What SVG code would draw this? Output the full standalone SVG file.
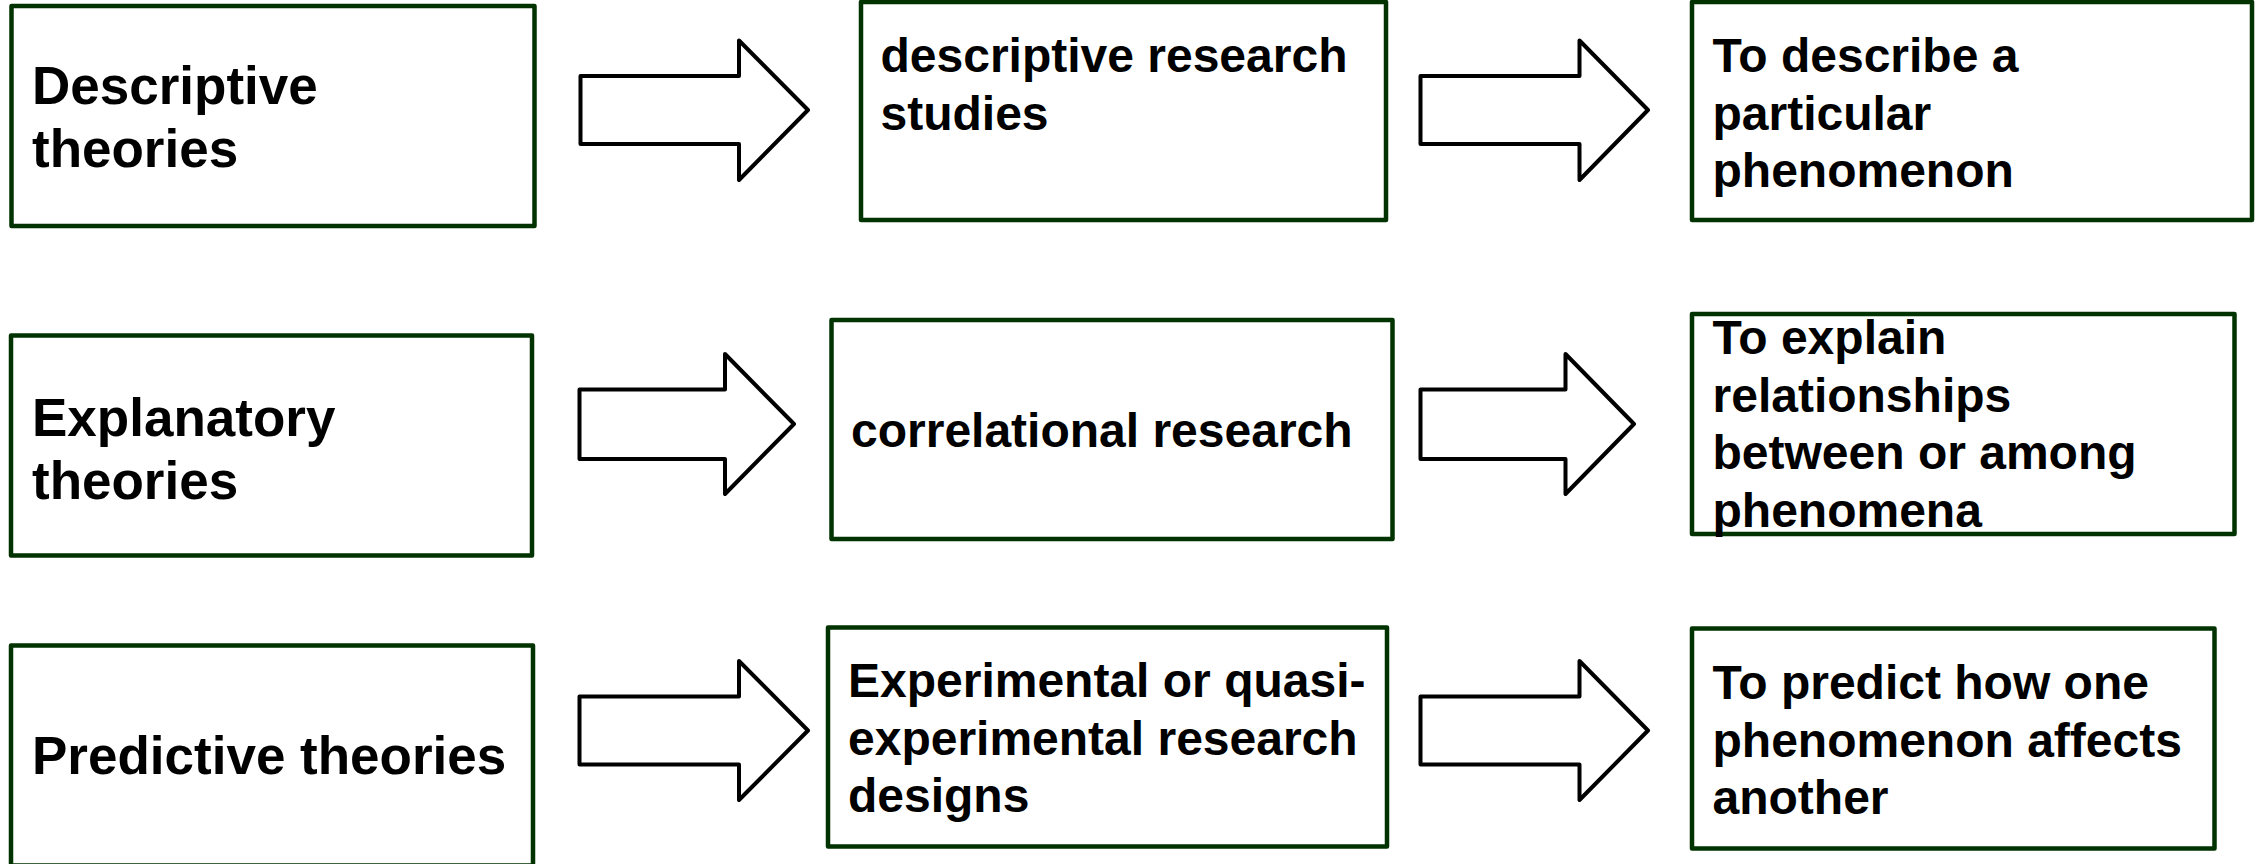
<svg xmlns="http://www.w3.org/2000/svg" width="2265" height="864" viewBox="0 0 2265 864">
<style>
.box{fill:#ffffff;stroke:#003300;stroke-width:4.5;stroke-linejoin:round}
.arr{fill:#ffffff;stroke:#000000;stroke-width:4;stroke-linejoin:round}
.t{font-family:"Liberation Sans",Arial,sans-serif;font-weight:bold;fill:#000000}
.a{font-size:53px}
.b{font-size:48px}
</style>
<rect width="2265" height="864" fill="#ffffff"/>
<g id="connectors">
<polygon class="arr" points="580.5,76 739,76 739,40.5 808,110 739,180 739,144 580.5,144"/>
<polygon class="arr" points="1420.5,76 1579.5,76 1579.5,40.5 1648,110 1579.5,180 1579.5,144 1420.5,144"/>
<polygon class="arr" points="579.5,389.5 725,389.5 725,354 794,424 725,494 725,459 579.5,459"/>
<polygon class="arr" points="1420.5,389.5 1565.5,389.5 1565.5,354 1634,424 1565.5,494 1565.5,459 1420.5,459"/>
<polygon class="arr" points="579.5,696.5 739,696.5 739,661 808,730.5 739,800 739,764.5 579.5,764.5"/>
<polygon class="arr" points="1420.5,696.5 1579.5,696.5 1579.5,661 1648,730.5 1579.5,800 1579.5,764.5 1420.5,764.5"/>
</g>
<g id="descriptive-theories">
<rect class="box" x="11.5" y="6" width="523" height="220"/>
<text class="t a" x="32" y="103.5">Descriptive</text>
<text class="t a" x="32" y="166.5">theories</text>
</g>
<g id="descriptive-research">
<rect class="box" x="861" y="2" width="525" height="218"/>
<text class="t b" x="880.5" y="72">descriptive research</text>
<text class="t b" x="880.5" y="129.6">studies</text>
</g>
<g id="describe-phenomenon">
<rect class="box" x="1692" y="2" width="560" height="218"/>
<text class="t b" x="1712.5" y="72">To describe a</text>
<text class="t b" x="1712.5" y="129.6">particular</text>
<text class="t b" x="1712.5" y="187.2">phenomenon</text>
</g>
<g id="explanatory-theories">
<rect class="box" x="11" y="335.5" width="521" height="220"/>
<text class="t a" x="32" y="435.5">Explanatory</text>
<text class="t a" x="32" y="498.5">theories</text>
</g>
<g id="correlational-research">
<rect class="box" x="831.5" y="320" width="561" height="219"/>
<text class="t b" x="851" y="447">correlational research</text>
</g>
<g id="explain-relationships">
<rect class="box" x="1692" y="314" width="542.5" height="220"/>
<text class="t b" x="1712.5" y="354">To explain</text>
<text class="t b" x="1712.5" y="411.6">relationships</text>
<text class="t b" x="1712.5" y="469.2">between or among</text>
<text class="t b" x="1712.5" y="526.8">phenomena</text>
</g>
<g id="predictive-theories">
<rect class="box" x="11" y="645.5" width="522" height="220"/>
<text class="t a" x="32" y="773.5">Predictive theories</text>
</g>
<g id="experimental-research">
<rect class="box" x="828" y="627.5" width="559" height="219"/>
<text class="t b" x="848" y="697">Experimental or quasi-</text>
<text class="t b" x="848" y="754.6">experimental research</text>
<text class="t b" x="848" y="812.2">designs</text>
</g>
<g id="predict-phenomenon">
<rect class="box" x="1692" y="628.5" width="522.5" height="220"/>
<text class="t b" x="1712.5" y="699">To predict how one</text>
<text class="t b" x="1712.5" y="756.6">phenomenon affects</text>
<text class="t b" x="1712.5" y="814.2">another</text>
</g>
</svg>
